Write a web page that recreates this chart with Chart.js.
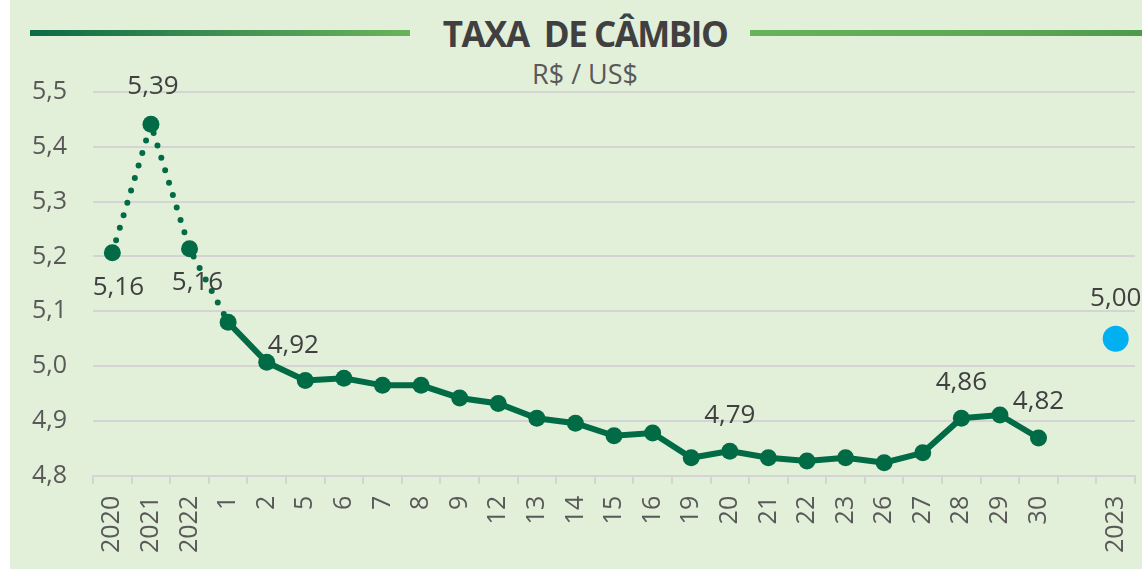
<!DOCTYPE html>
<html>
<head>
<meta charset="utf-8">
<script src="https://cdn.jsdelivr.net/npm/chart.js@4"></script>
<style>
  html, body { margin: 0; padding: 0; background: #fff; overflow: hidden; }
  #painel { position: absolute; left: 10px; top: 0; width: 1132px; height: 569px; background: #e2efd9; }
  #grafico { position: absolute; left: 0; top: 0; }
  .linha { position: absolute; height: 6px; top: 30px; }
  #linhaEsq { left: 30px; width: 380px; background: linear-gradient(to right, #0b6b45, #3f8f52 50%, #69b45a); }
  #linhaDir { left: 750px; width: 392px; background: linear-gradient(to right, #66b35a, #5aa653 70%, #4d9a4c); }
  #titulo { position: absolute; left: 385px; width: 400px; top: 10px; text-align: center; white-space: pre;
            font: 700 35px "Open Sans", sans-serif; color: #404040; letter-spacing: -1.5px; }
  #subtitulo { position: absolute; left: 385px; width: 400px; top: 55px; text-align: center;
               font: 27px "Open Sans", sans-serif; color: #595959; }
</style>
</head>
<body>
<div id="painel"></div>
<div class="linha" id="linhaEsq"></div>
<div class="linha" id="linhaDir"></div>
<div id="titulo">TAXA  DE CÂMBIO</div>
<div id="subtitulo">R$ / US$</div>
<canvas id="grafico" width="1148" height="569"></canvas>
<script>
var categorias = ["2020", "2021", "2022", "1", "2", "5", "6", "7", "8", "9", "12", "13", "14", "15", "16", "19", "20", "21", "22", "23", "26", "27", "28", "29", "30", "", "2023"];
var cambio = [5.207, 5.441, 5.214, 5.080, 5.007, 4.974, 4.978, 4.965, 4.965, 4.942, 4.932, 4.905, 4.896, 4.873, 4.878, 4.833, 4.845, 4.833, 4.827, 4.833, 4.824, 4.842, 4.905, 4.911, 4.869, null, null];
var projecao = [null, null, null, null, null, null, null, null, null, null, null, null, null, null, null, null, null, null, null, null, null, null, null, null, null, null, 5.05];
var rotulos = ["5,16", "5,39", "5,16", null, null, "4,92", null, null, null, null, null, null, null, null, null, null, "4,79", null, null, null, null, null, "4,86", null, "4,82", null, "5,00"];

var verde = "#006b45";
var azul = "#00b0f0";

// desloca o texto de cada rotulo em relacao ao ponto
var deslocamento = { 0: [6, 35], 1: [2, -38], 2: [8, 34], 5: [-12, -35], 26: [0, -40] };

var rotulosPlugin = {
  id: "rotulos",
  afterDatasetsDraw: function (chart) {
    var ctx = chart.ctx;
    ctx.save();
    ctx.font = '26px "Open Sans"';
    ctx.fillStyle = "#404040";
    ctx.textAlign = "center";
    ctx.textBaseline = "middle";
    rotulos.forEach(function (txt, i) {
      if (!txt) return;
      var ds = cambio[i] != null ? 0 : 1;
      var pt = chart.getDatasetMeta(ds).data[i];
      var off = deslocamento[i] || [0, -36];
      ctx.fillText(txt, pt.x + off[0], pt.y + off[1]);
    });
    ctx.restore();
  }
};

function desenhar() {
  var ctx = document.getElementById("grafico");
  new Chart(ctx, {
    type: "line",
    data: {
      labels: categorias,
      datasets: [
        {
          label: "Câmbio",
          data: cambio,
          borderColor: verde,
          backgroundColor: verde,
          borderWidth: 6,
          pointRadius: 8.5,
          pointHoverRadius: 8.5,
          pointBorderWidth: 0,
          tension: 0,
          spanGaps: false,
          borderCapStyle: "round",
          segment: {
            borderDash: function (c) { return c.p1DataIndex <= 3 ? [0, 13] : undefined; }
          }
        },
        {
          label: "Projeção",
          data: projecao,
          showLine: false,
          backgroundColor: azul,
          borderColor: azul,
          pointRadius: 13,
          pointBorderWidth: 0
        }
      ]
    },
    options: {
      responsive: false,
      animation: false,
      layout: { padding: { left: 6, right: 3, top: 92, bottom: 4 } },
      plugins: { legend: { display: false }, tooltip: { enabled: false } },
      scales: {
        x: {
          offset: true,
          afterFit: function (s) { s.paddingRight = 0; s.paddingLeft = 0; },
          grid: { offset: true, drawOnChartArea: false, drawTicks: true, tickLength: 8, color: "#d4d4d4", lineWidth: 2 },
          border: { color: "#d4d4d4", width: 2 },
          ticks: {
            autoSkip: false,
            maxRotation: 90,
            minRotation: 90,
            padding: 12,
            color: "#595959",
            font: { family: "Open Sans", size: 25 }
          }
        },
        y: {
          min: 4.8,
          max: 5.5,
          grid: { color: "#d4d4d4", lineWidth: 2, drawTicks: false },
          border: { display: false },
          ticks: {
            stepSize: 0.1,
            padding: 26,
            color: "#595959",
            font: { family: "Open Sans", size: 25 },
            callback: function (v) { return v.toFixed(1).replace(".", ","); }
          }
        }
      }
    },
    plugins: [rotulosPlugin]
  });
}

Promise.all([
  document.fonts.load('25px "Open Sans"'),
  document.fonts.load('700 35px "Open Sans"')
]).then(desenhar, desenhar);
</script>
</body>
</html>
